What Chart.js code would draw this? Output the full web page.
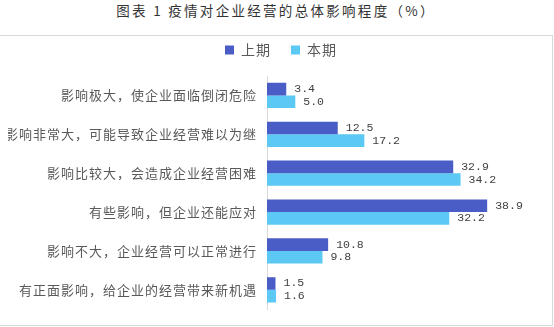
<!DOCTYPE html>
<html lang="zh-CN">
<head>
<meta charset="UTF-8">
<title>疫情对企业经营的总体影响程度</title>
<script src="https://cdn.jsdelivr.net/npm/chart.js"></script>
<style>
  body { margin: 0; background: #fff; }
  #wrap { position: relative; width: 554px; height: 327px; }
  #title {
    position: absolute; left: 6px; top: 0; width: 540px;
    line-height: 28px; text-align: center;
    font: 13.5px "Noto Sans CJK SC", sans-serif;
    letter-spacing: 2.3px; color: #333;
  }
  #frame {
    position: absolute; left: -1px; top: 35px;
    width: 554px; height: 291px;
    border: 1px solid #d9d9d9; box-sizing: border-box;
  }
  canvas { position: absolute; left: 0; top: 0; }
</style>
</head>
<body>
<div id="wrap">
  <div id="title">图表 1 疫情对企业经营的总体影响程度（%）</div>
  <div id="frame"></div>
  <canvas id="impactChart" width="554" height="327"></canvas>
</div>
<script>
const categories = [
  '影响极大，使企业面临倒闭危险',
  '影响非常大，可能导致企业经营难以为继',
  '影响比较大，会造成企业经营困难',
  '有些影响，但企业还能应对',
  '影响不大，企业经营可以正常进行',
  '有正面影响，给企业的经营带来新机遇'
];
const seriesNames = ['上期', '本期'];
const prevValues = [3.4, 12.5, 32.9, 38.9, 10.8, 1.5];
const currValues = [5.0, 17.2, 34.2, 32.2, 9.8, 1.6];

const cjk = '"Noto Sans CJK SC", sans-serif';

// the original text is spaced out a little
const spacing = {
  id: 'spacing',
  beforeDraw(chart) {
    chart.ctx.letterSpacing = '1px';
  }
};

// numbers at the end of each bar
const valueLabels = {
  id: 'valueLabels',
  afterDatasetsDraw(chart) {
    const ctx = chart.ctx;
    ctx.save();
    ctx.letterSpacing = '0px';
    ctx.font = '11.5px "Liberation Mono", monospace';
    ctx.fillStyle = '#404040';
    ctx.textAlign = 'left';
    ctx.textBaseline = 'middle';
    chart.data.datasets.forEach((ds, i) => {
      chart.getDatasetMeta(i).data.forEach((bar, j) => {
        ctx.fillText(ds.data[j].toFixed(1), bar.x + 8, bar.y);
      });
    });
    ctx.restore();
  }
};

new Chart(document.getElementById('impactChart'), {
  type: 'bar',
  data: {
    labels: categories,
    datasets: [
      { label: seriesNames[0], data: prevValues, backgroundColor: '#4a5cc5' },
      { label: seriesNames[1], data: currValues, backgroundColor: '#5bc9f4' }
    ]
  },
  options: {
    indexAxis: 'y',
    responsive: false,
    animation: false,
    categoryPercentage: 0.65,
    barPercentage: 1,
    layout: { padding: { top: 23, left: 8, right: 4, bottom: 12 } },
    plugins: {
      legend: {
        labels: {
          boxWidth: 9,
          boxHeight: 9,
          padding: 20,
          color: '#595959',
          font: { family: cjk, size: 14 }
        }
      },
      tooltip: { enabled: false }
    },
    scales: {
      x: {
        position: 'top',
        min: 0,
        max: 50,
        ticks: { display: false },
        grid: { display: false },
        border: { display: false },
        afterFit(s) { s.height = 9; }
      },
      y: {
        ticks: { color: '#595959', padding: 10, font: { family: cjk, size: 13 } },
        grid: { display: false, drawTicks: false },
        border: { display: true, color: '#d9d9d9' },
        afterFit(s) { s.width = 259; }
      }
    }
  },
  plugins: [spacing, valueLabels]
});
</script>
</body>
</html>
